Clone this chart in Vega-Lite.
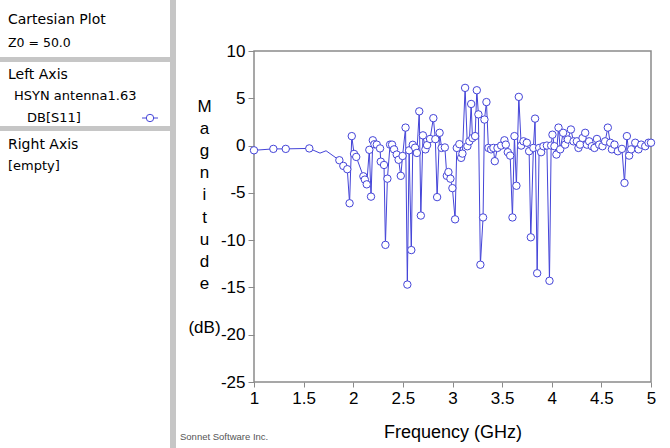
{
  "$schema": "https://vega.github.io/schema/vega-lite/v6.json",
  "width": 397,
  "height": 331,
  "autosize": {"type": "none"},
  "padding": {"left": 254, "top": 51, "right": 19, "bottom": 66},
  "background": "white",
  "config": {
    "view": {"stroke": "#8a8a8a", "strokeWidth": 1.5},
    "font": "Liberation Sans"
  },
  "data": {
    "values": [
      {"f":1.0,"db":-0.5,"calc":true},{"f":1.195,"db":-0.35,"calc":true},{"f":1.32,"db":-0.35,"calc":true},{"f":1.557,"db":-0.3,"calc":true},
      {"f":1.665,"db":-0.8,"calc":false},{"f":1.726,"db":-0.55,"calc":false},{"f":1.86,"db":-1.55,"calc":true},{"f":1.9,"db":-2.15,"calc":true},
      {"f":1.94,"db":-2.5,"calc":true},{"f":1.963,"db":-6.1,"calc":true},{"f":1.985,"db":1.0,"calc":true},{"f":2.008,"db":-0.88,"calc":true},
      {"f":2.03,"db":-1.2,"calc":true},{"f":2.102,"db":-3.25,"calc":true},{"f":2.117,"db":-3.6,"calc":true},{"f":2.136,"db":-4.1,"calc":true},
      {"f":2.162,"db":-0.45,"calc":true},{"f":2.179,"db":-5.4,"calc":true},{"f":2.197,"db":0.56,"calc":true},{"f":2.213,"db":0.14,"calc":true},
      {"f":2.237,"db":0.1,"calc":true},{"f":2.27,"db":-0.3,"calc":true},{"f":2.277,"db":-1.7,"calc":true},{"f":2.31,"db":-2.05,"calc":true},
      {"f":2.324,"db":-10.5,"calc":true},{"f":2.344,"db":-3.5,"calc":true},{"f":2.371,"db":0.1,"calc":true},{"f":2.391,"db":0.1,"calc":true},
      {"f":2.411,"db":-0.4,"calc":true},{"f":2.438,"db":-0.95,"calc":true},{"f":2.457,"db":-1.5,"calc":true},{"f":2.479,"db":-3.2,"calc":true},
      {"f":2.497,"db":-1.1,"calc":true},{"f":2.527,"db":1.9,"calc":true},{"f":2.545,"db":-14.7,"calc":true},{"f":2.563,"db":-0.5,"calc":true},
      {"f":2.585,"db":-11.05,"calc":true},{"f":2.6,"db":0.08,"calc":true},{"f":2.623,"db":-0.22,"calc":true},{"f":2.641,"db":-0.78,"calc":true},
      {"f":2.665,"db":3.62,"calc":true},{"f":2.681,"db":-7.4,"calc":true},{"f":2.702,"db":1.08,"calc":true},{"f":2.727,"db":-0.4,"calc":true},
      {"f":2.744,"db":0.05,"calc":true},{"f":2.774,"db":0.7,"calc":true},{"f":2.807,"db":2.9,"calc":true},{"f":2.827,"db":0.68,"calc":true},
      {"f":2.845,"db":-5.45,"calc":true},{"f":2.87,"db":1.35,"calc":true},{"f":2.89,"db":-0.25,"calc":true},{"f":2.923,"db":-0.2,"calc":true},
      {"f":2.943,"db":-3.2,"calc":true},{"f":2.959,"db":-2.8,"calc":true},{"f":2.979,"db":-3.5,"calc":true},{"f":2.999,"db":-4.5,"calc":true},
      {"f":3.026,"db":-7.8,"calc":true},{"f":3.043,"db":-0.25,"calc":true},{"f":3.069,"db":0.15,"calc":true},{"f":3.087,"db":-1.3,"calc":true},
      {"f":3.1,"db":-0.85,"calc":true},{"f":3.127,"db":6.1,"calc":true},{"f":3.15,"db":-0.07,"calc":true},{"f":3.17,"db":0.45,"calc":true},
      {"f":3.188,"db":4.4,"calc":true},{"f":3.201,"db":0.8,"calc":true},{"f":3.228,"db":1.0,"calc":true},{"f":3.245,"db":5.85,"calc":true},
      {"f":3.261,"db":3.3,"calc":true},{"f":3.281,"db":-12.6,"calc":true},{"f":3.308,"db":-7.6,"calc":true},{"f":3.322,"db":2.75,"calc":true},
      {"f":3.342,"db":4.6,"calc":true},{"f":3.362,"db":-0.25,"calc":true},{"f":3.389,"db":-0.4,"calc":true},{"f":3.412,"db":-0.25,"calc":true},
      {"f":3.426,"db":-1.65,"calc":true},{"f":3.453,"db":-0.25,"calc":true},{"f":3.49,"db":0.0,"calc":true},{"f":3.523,"db":0.56,"calc":true},
      {"f":3.537,"db":0.1,"calc":true},{"f":3.557,"db":-0.7,"calc":true},{"f":3.581,"db":-1.06,"calc":true},{"f":3.604,"db":-7.6,"calc":true},
      {"f":3.624,"db":1.0,"calc":true},{"f":3.644,"db":-4.25,"calc":true},{"f":3.668,"db":5.15,"calc":true},{"f":3.692,"db":0.0,"calc":true},
      {"f":3.715,"db":0.45,"calc":true},{"f":3.749,"db":0.3,"calc":true},{"f":3.772,"db":-0.6,"calc":true},{"f":3.789,"db":-9.7,"calc":true},
      {"f":3.815,"db":-0.25,"calc":true},{"f":3.832,"db":2.85,"calc":true},{"f":3.853,"db":-13.5,"calc":true},{"f":3.873,"db":-0.25,"calc":true},
      {"f":3.893,"db":-0.7,"calc":true},{"f":3.916,"db":-0.07,"calc":true},{"f":3.951,"db":0.0,"calc":true},{"f":3.977,"db":-14.3,"calc":true},
      {"f":3.994,"db":0.0,"calc":true},{"f":4.007,"db":1.15,"calc":true},{"f":4.027,"db":-0.07,"calc":true},{"f":4.047,"db":-0.95,"calc":true},
      {"f":4.068,"db":1.9,"calc":true},{"f":4.085,"db":-0.4,"calc":true},{"f":4.115,"db":1.35,"calc":true},{"f":4.135,"db":0.1,"calc":true},
      {"f":4.162,"db":0.64,"calc":true},{"f":4.193,"db":1.7,"calc":true},{"f":4.219,"db":0.45,"calc":true},{"f":4.253,"db":0.45,"calc":true},
      {"f":4.269,"db":-0.25,"calc":true},{"f":4.285,"db":0.1,"calc":true},{"f":4.31,"db":0.8,"calc":true},{"f":4.337,"db":1.35,"calc":true},
      {"f":4.354,"db":0.1,"calc":true},{"f":4.377,"db":0.45,"calc":true},{"f":4.404,"db":-0.07,"calc":true},{"f":4.43,"db":-0.25,"calc":true},
      {"f":4.455,"db":0.7,"calc":true},{"f":4.478,"db":0.1,"calc":true},{"f":4.511,"db":-0.07,"calc":true},{"f":4.538,"db":0.45,"calc":true},
      {"f":4.565,"db":1.9,"calc":true},{"f":4.589,"db":0.3,"calc":true},{"f":4.606,"db":-0.4,"calc":true},{"f":4.632,"db":0.1,"calc":true},
      {"f":4.666,"db":-0.6,"calc":true},{"f":4.707,"db":-0.35,"calc":true},{"f":4.733,"db":-3.95,"calc":true},{"f":4.757,"db":1.0,"calc":true},
      {"f":4.78,"db":-1.06,"calc":true},{"f":4.8,"db":-0.4,"calc":true},{"f":4.841,"db":0.3,"calc":true},{"f":4.874,"db":-0.4,"calc":true},
      {"f":4.901,"db":0.1,"calc":true},{"f":4.942,"db":-0.07,"calc":true},{"f":4.975,"db":0.3,"calc":true},{"f":5.0,"db":0.3,"calc":true}
    ]
  },
  "layer": [
    {
      "mark": {"type": "line", "color": "#4444d8", "strokeWidth": 1},
      "encoding": {
        "x": {
          "field": "f", "type": "quantitative",
          "scale": {"domain": [1, 5], "nice": false, "zero": false},
          "axis": {
            "values": [1, 1.5, 2, 2.5, 3, 3.5, 4, 4.5, 5],
            "format": "~g",
            "domain": false, "grid": false,
            "tickSize": 5, "tickColor": "#8a8a8a",
            "labelFontSize": 17, "labelColor": "#000", "labelPadding": 3, "labelFont": "Liberation Sans",
            "labelFlush": false,
            "title": "Frequency (GHz)",
            "titleFontSize": 18, "titleFontWeight": "normal", "titleColor": "#000", "titleFont": "Liberation Sans",
            "titlePadding": 17
          }
        },
        "y": {
          "field": "db", "type": "quantitative",
          "scale": {"domain": [-25, 10], "nice": false, "zero": false},
          "axis": {
            "values": [-25, -20, -15, -10, -5, 0, 5, 10],
            "labelExpr": "replace(datum.label, '\u2212', '-')",
            "domain": false, "grid": false,
            "tickSize": 6, "tickColor": "#8a8a8a",
            "labelFontSize": 17, "labelColor": "#000", "labelPadding": 3, "labelFont": "Liberation Sans",
            "labelFlush": false,
            "title": ["M", "a", "g", "n", "i", "t", "u", "d", "e", "\u200b", "(dB)"],
            "titleAngle": 0, "titleAlign": "center", "titleBaseline": "alphabetic",
            "titleX": -50, "titleY": 60, "titleLineHeight": 22.2,
            "titleFontSize": 17, "titleFontWeight": "normal", "titleColor": "#000", "titleFont": "Liberation Sans"
          }
        }
      }
    },
    {
      "transform": [{"filter": "datum.calc"}],
      "mark": {"type": "point", "shape": "circle", "filled": true, "fill": "white", "stroke": "#4444d8", "strokeWidth": 1, "size": 55, "opacity": 1},
      "encoding": {
        "x": {"field": "f", "type": "quantitative"},
        "y": {"field": "db", "type": "quantitative"}
      }
    },
    {
      "data": {"values": [{"part": "bar"}]},
      "mark": {"type": "rect", "fill": "#c6c6c6"},
      "encoding": {"x": {"value": -84}, "x2": {"value": -78}, "y": {"value": -51}, "y2": {"value": 397}}
    },
    {
      "data": {"values": [{"part": "sep1"}]},
      "mark": {"type": "rect", "fill": "#c6c6c6"},
      "encoding": {"x": {"value": -254}, "x2": {"value": -84}, "y": {"value": 6}, "y2": {"value": 11}}
    },
    {
      "data": {"values": [{"part": "sep2"}]},
      "mark": {"type": "rect", "fill": "#c6c6c6"},
      "encoding": {"x": {"value": -254}, "x2": {"value": -84}, "y": {"value": 75}, "y2": {"value": 80}}
    },
    {
      "data": {"values": [{"text": "Cartesian Plot"}]},
      "mark": {"type": "text", "align": "left", "baseline": "alphabetic", "fontSize": 14, "font": "DejaVu Sans", "color": "#000"},
      "encoding": {"text": {"field": "text"}, "x": {"value": -246}, "y": {"value": -27}}
    },
    {
      "data": {"values": [{"text": "Z0 = 50.0"}]},
      "mark": {"type": "text", "align": "left", "baseline": "alphabetic", "fontSize": 12.5, "font": "DejaVu Sans", "color": "#000"},
      "encoding": {"text": {"field": "text"}, "x": {"value": -246}, "y": {"value": -4.5}}
    },
    {
      "data": {"values": [{"text": "Left Axis"}]},
      "mark": {"type": "text", "align": "left", "baseline": "alphabetic", "fontSize": 14, "font": "DejaVu Sans", "color": "#000"},
      "encoding": {"text": {"field": "text"}, "x": {"value": -246}, "y": {"value": 27.5}}
    },
    {
      "data": {"values": [{"text": "HSYN antenna1.63"}]},
      "mark": {"type": "text", "align": "left", "baseline": "alphabetic", "fontSize": 13, "font": "DejaVu Sans", "color": "#000"},
      "encoding": {"text": {"field": "text"}, "x": {"value": -240}, "y": {"value": 49}}
    },
    {
      "data": {"values": [{"text": "DB[S11]"}]},
      "mark": {"type": "text", "align": "left", "baseline": "alphabetic", "fontSize": 13, "font": "DejaVu Sans", "color": "#000"},
      "encoding": {"text": {"field": "text"}, "x": {"value": -227}, "y": {"value": 71}}
    },
    {
      "data": {"values": [{"part": "legendline"}]},
      "mark": {"type": "rule", "color": "#4444d8", "strokeWidth": 1},
      "encoding": {"x": {"value": -112}, "x2": {"value": -96}, "y": {"value": 67}}
    },
    {
      "data": {"values": [{"part": "legendsymbol"}]},
      "mark": {"type": "point", "shape": "circle", "filled": true, "fill": "white", "stroke": "#4444d8", "strokeWidth": 1, "size": 55, "opacity": 1},
      "encoding": {"x": {"value": -104}, "y": {"value": 67}}
    },
    {
      "data": {"values": [{"text": "Right Axis"}]},
      "mark": {"type": "text", "align": "left", "baseline": "alphabetic", "fontSize": 14, "font": "DejaVu Sans", "color": "#000"},
      "encoding": {"text": {"field": "text"}, "x": {"value": -246}, "y": {"value": 97.5}}
    },
    {
      "data": {"values": [{"text": "[empty]"}]},
      "mark": {"type": "text", "align": "left", "baseline": "alphabetic", "fontSize": 13, "font": "DejaVu Sans", "color": "#000"},
      "encoding": {"text": {"field": "text"}, "x": {"value": -246}, "y": {"value": 119}}
    },
    {
      "data": {"values": [{"text": "Sonnet Software Inc."}]},
      "mark": {"type": "text", "align": "left", "baseline": "alphabetic", "fontSize": 9.5, "font": "Liberation Sans", "color": "#555"},
      "encoding": {"text": {"field": "text"}, "x": {"value": -74}, "y": {"value": 389}}
    }
  ]
}
